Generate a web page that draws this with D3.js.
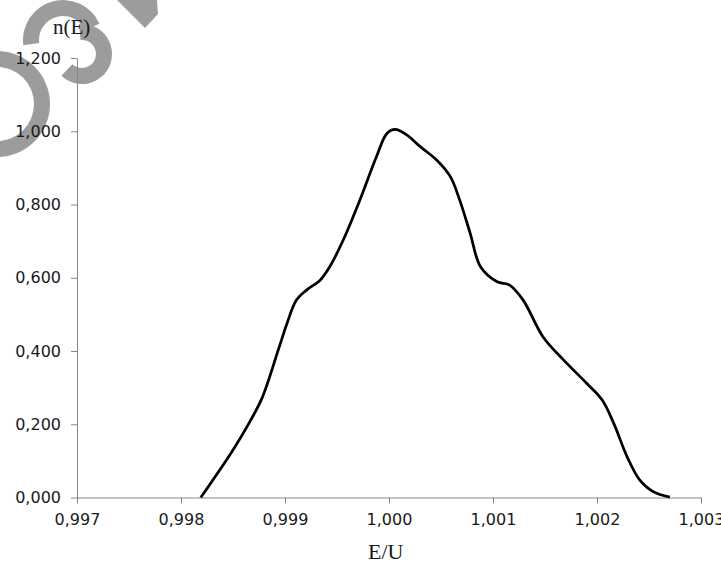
<!DOCTYPE html>
<html>
<head>
<meta charset="utf-8">
<script src="https://cdn.jsdelivr.net/npm/d3@7"></script>
<style>
  body { margin: 0; background: #fff; }
  .tick text { font-family: "DejaVu Sans", Verdana, sans-serif; font-size: 16px; fill: #1a1a1a; }
  .title { font-family: "Liberation Serif", "Times New Roman", serif; fill: #1a1a1a; }
</style>
</head>
<body>
<script>
// energy ratio E/U (x) and distribution n(E) (y)
const eRatio = [0.99819, 0.99850, 0.99866, 0.99878, 0.99894, 0.99902, 0.99911, 0.99921,
                0.99934, 0.99943, 0.99956, 0.99972, 0.99988, 0.99998, 1.00006, 1.00017,
                1.00030, 1.00046, 1.00059, 1.00068, 1.00078, 1.00088, 1.00104, 1.00116,
                1.00129, 1.00148, 1.00168, 1.00190, 1.00205, 1.00216, 1.00229, 1.00241,
                1.00254, 1.00270]
const nE = [0.000, 0.130, 0.206, 0.272, 0.407, 0.476, 0.539, 0.567,
            0.594, 0.630, 0.703, 0.812, 0.931, 0.994, 1.005, 0.990,
            0.958, 0.921, 0.876, 0.812, 0.722, 0.630, 0.589, 0.580,
            0.539, 0.439, 0.375, 0.312, 0.266, 0.203, 0.111, 0.048,
            0.016, 0.001]

const xTicks = [0.997, 0.998, 0.999, 1.000, 1.001, 1.002, 1.003]
const yTicks = [0, 0.2, 0.4, 0.6, 0.8, 1.0, 1.2]

const data = eRatio.map((x, i) => ({ x: x, y: nE[i] }))

// margins for layout
const margin = { top: 58, right: 20, bottom: 65.5, left: 77 },
    width = 721 - margin.left - margin.right,
    height = 563 - margin.top - margin.bottom

// comma as decimal separator
const locale = d3.formatLocale({ decimal: ",", thousands: ".", grouping: [3], currency: ["", ""] })
const fmt = locale.format(".3f")

let svg = d3.select("body")
    .append("svg")
        .attr("width", 721)
        .attr("height", 563)

// grey watermark behind the chart
const wm = svg.append("g").attr("fill", "#9c9c9c")
const arc = d3.arc()
wm.append("path")
    .attr("transform", "translate(-3,104)")
    .attr("d", arc({ innerRadius: 37, outerRadius: 53, startAngle: 0, endAngle: Math.PI }))
wm.append("path")
    .attr("transform", "translate(63,40)")
    .attr("d", arc({ innerRadius: 24, outerRadius: 40, startAngle: -1.7, endAngle: 1.15 }))
wm.append("path")
    .attr("transform", "translate(82,54)")
    .attr("d", arc({ innerRadius: 14, outerRadius: 30, startAngle: -0.1, endAngle: 3.9 }))
wm.append("path")
    .attr("d", "M117,0 L157,0 L158,14 L145,28 Z")

let canvas = svg.append("g")
    .attr("transform", "translate(" + margin.left + "," + margin.top + ")")

let x = d3.scaleLinear().domain([0.997, 1.003]).range([0, width])
let y = d3.scaleLinear().domain([0, 1.2]).range([height, 0])

// axes
let xAxis = canvas.append("g")
    .attr("transform", "translate(0," + height + ")")
    .call(d3.axisBottom(x).tickValues(xTicks).tickFormat(fmt).tickSize(6).tickPadding(10).tickSizeOuter(0))

let yAxis = canvas.append("g")
    .call(d3.axisLeft(y).tickValues(yTicks).tickFormat(fmt).tickSize(6).tickPadding(10).tickSizeOuter(0))

canvas.selectAll(".domain, .tick line").attr("stroke", "#868686")
canvas.selectAll(".tick text").attr("font-family", null).attr("font-size", null)

// the curve
let line = d3.line()
    .x(d => x(d.x))
    .y(d => y(d.y))
    .curve(d3.curveCatmullRom.alpha(0.5))

canvas.append("path")
    .datum(data)
    .attr("fill", "none")
    .attr("stroke", "#000")
    .attr("stroke-width", 2.75)
    .attr("stroke-linejoin", "round")
    .attr("d", line)

// axis titles
svg.append("text")
    .attr("class", "title")
    .attr("x", 53)
    .attr("y", 34)
    .attr("font-size", 21)
    .text("n(E)")

svg.append("text")
    .attr("class", "title")
    .attr("x", 368)
    .attr("y", 559)
    .attr("font-size", 22)
    .text("E/U")
</script>
</body>
</html>
